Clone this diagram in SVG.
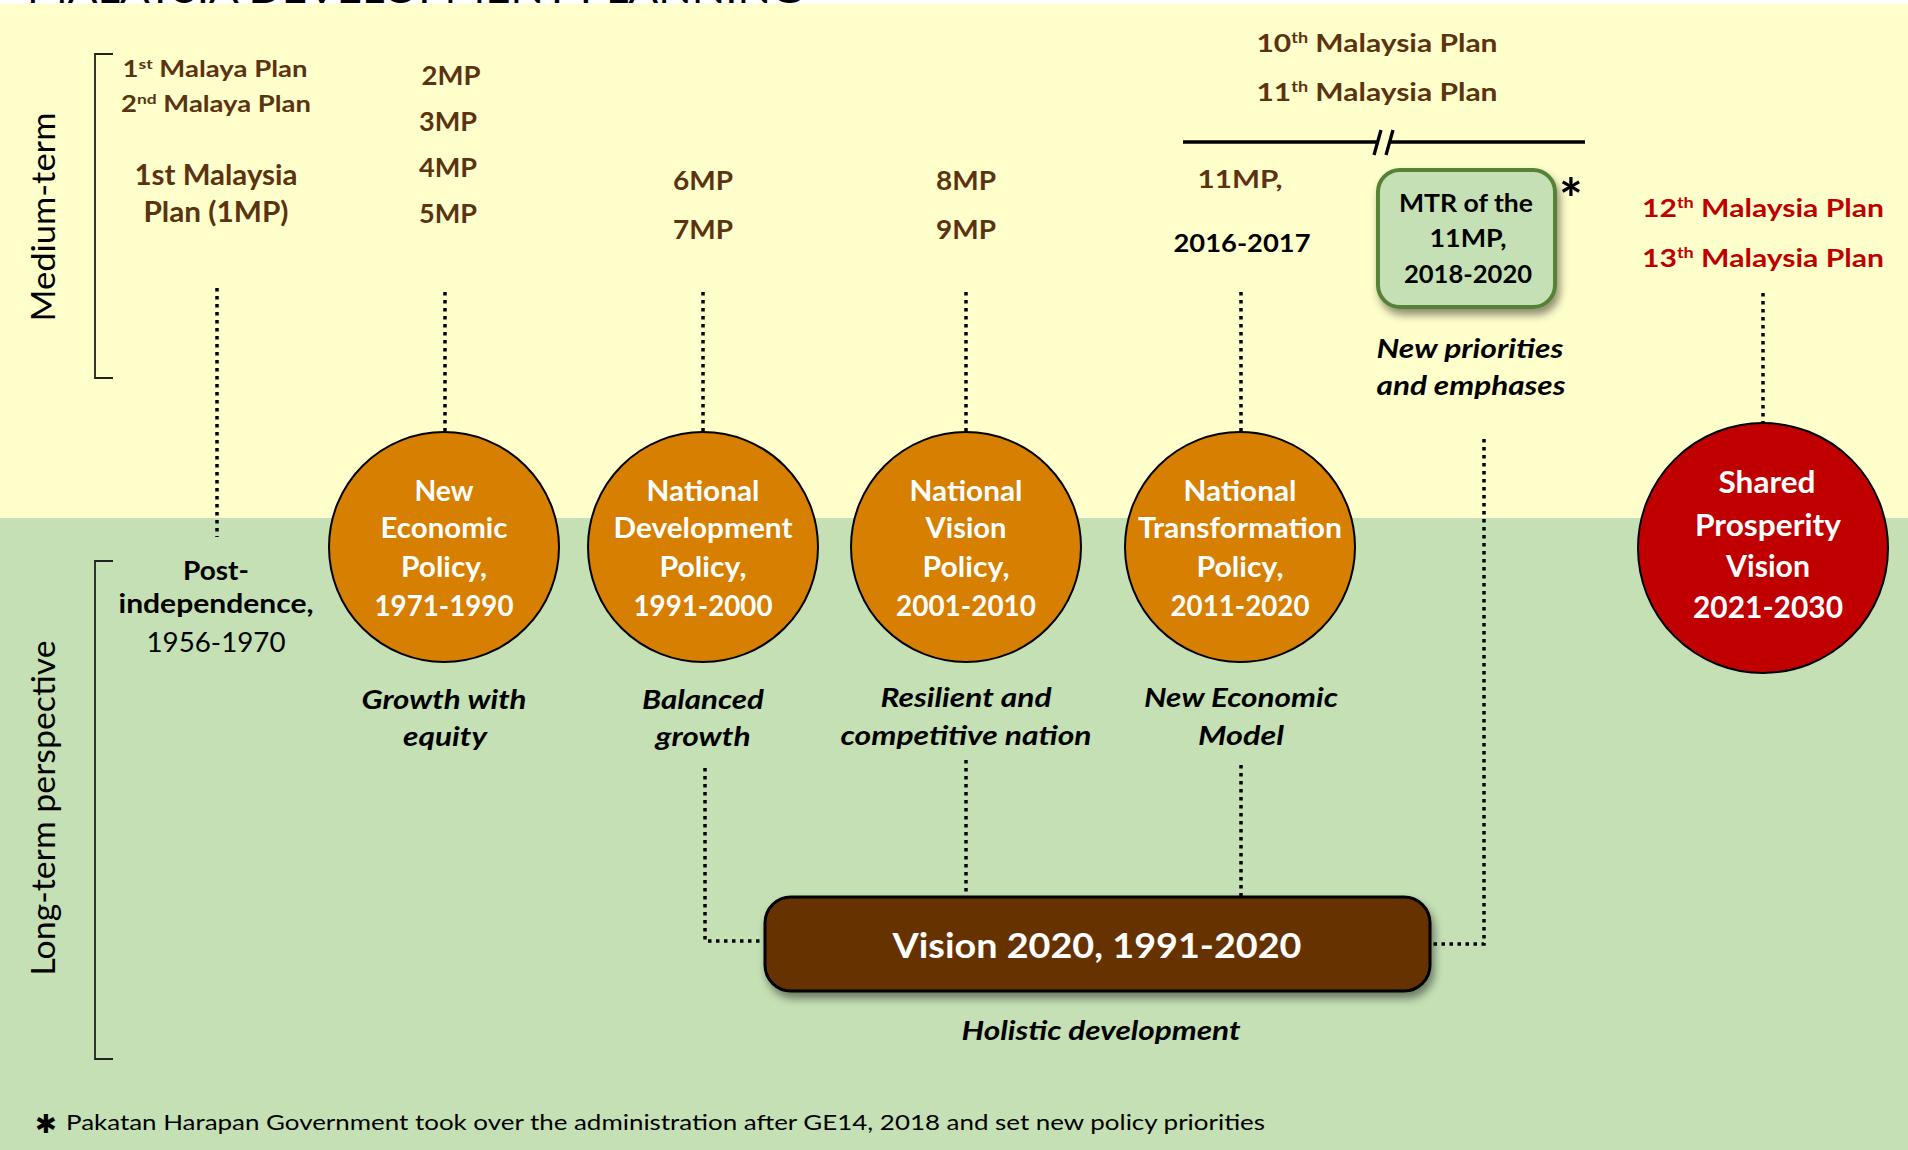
<svg xmlns="http://www.w3.org/2000/svg" width="1908" height="1150" viewBox="0 0 1908 1150">
<defs>
<style>
text{font-family:Lato,"Liberation Sans",sans-serif}
.c{text-anchor:middle}
.b{font-weight:700;fill:#000}
.r{font-weight:400;fill:#000}
.bi{font-weight:700;font-style:italic;fill:#000}
.br{fill:#5C3311;font-weight:700}
.w{fill:#fff;font-weight:700}
.red{fill:#C00000;font-weight:700}
.dot{fill:none;stroke:#000;stroke-width:3.5;stroke-dasharray:3.5 4.5}
.brk{fill:none;stroke:#222;stroke-width:1.8}
.pol{fill:#D67F00;stroke:#000;stroke-width:2}
</style>
<filter id="sh" x="-10%" y="-20%" width="130%" height="160%">
<feDropShadow dx="3" dy="6" stdDeviation="4" flood-color="#000" flood-opacity="0.45"/>
</filter>
</defs>

<rect x="0" y="0" width="1908" height="1150" fill="#fff"/>
<rect x="0" y="4" width="1908" height="514" fill="#FFFFCC"/>
<rect x="0" y="518" width="1908" height="632" fill="#C5E0B4"/>

<text x="27" y="3" class="r" font-size="40" textLength="776" lengthAdjust="spacingAndGlyphs">MALAYSIA DEVELOPMENT PLANNING</text>

<g id="axis-medium">
<path class="brk" d="M113,54 H95 V378 H113"/>
<text transform="translate(55,217) rotate(-90)" class="r c" font-size="33" textLength="209" lengthAdjust="spacingAndGlyphs">Medium-term</text>
</g>
<g id="axis-long">
<path class="brk" d="M113,561 H95 V1059 H113"/>
<text transform="translate(55,808) rotate(-90)" class="r c" font-size="33" textLength="335" lengthAdjust="spacingAndGlyphs">Long-term perspective</text>
</g>

<g id="connectors">
<path class="dot" d="M217,288 V537"/>
<path class="dot" d="M445,292 V432"/>
<path class="dot" d="M703,292 V432"/>
<path class="dot" d="M966,292 V432"/>
<path class="dot" d="M1241,292 V432"/>
<path class="dot" d="M1763,293 V423"/>
<path class="dot" d="M1484,439 V944 H1432"/>
<path class="dot" d="M705,768 V941 H765"/>
<path class="dot" d="M966,760 V896"/>
<path class="dot" d="M1241,765 V896"/>
<path fill="none" stroke="#000" stroke-width="3.3" d="M1183,142 H1378 M1389,142 H1585 M1381,130 L1374,155 M1393,130 L1386,155"/>
</g>

<g id="plans-early">
<text x="215" y="77" class="br c" font-size="22" textLength="185" lengthAdjust="spacingAndGlyphs">1<tspan dy="-8" font-size="14">st</tspan><tspan dy="8"> Malaya Plan</tspan></text>
<text x="216" y="112" class="br c" font-size="22" textLength="190" lengthAdjust="spacingAndGlyphs">2<tspan dy="-8" font-size="14">nd</tspan><tspan dy="8"> Malaya Plan</tspan></text>
<text x="216" y="185" class="br c" font-size="28" textLength="163" lengthAdjust="spacingAndGlyphs">1st Malaysia</text>
<text x="216" y="222" class="br c" font-size="28" textLength="145" lengthAdjust="spacingAndGlyphs">Plan (1MP)</text>
</g>

<g id="plans-2-5">
<text x="451" y="85" class="br c" font-size="26" textLength="59" lengthAdjust="spacingAndGlyphs">2MP</text>
<text x="448" y="131" class="br c" font-size="26" textLength="58" lengthAdjust="spacingAndGlyphs">3MP</text>
<text x="448" y="177" class="br c" font-size="26" textLength="58" lengthAdjust="spacingAndGlyphs">4MP</text>
<text x="448" y="223" class="br c" font-size="26" textLength="58" lengthAdjust="spacingAndGlyphs">5MP</text>
</g>

<g id="plans-6-7">
<text x="703" y="190" class="br c" font-size="26" textLength="60" lengthAdjust="spacingAndGlyphs">6MP</text>
<text x="703" y="239" class="br c" font-size="26" textLength="60" lengthAdjust="spacingAndGlyphs">7MP</text>
</g>

<g id="plans-8-9">
<text x="966" y="190" class="br c" font-size="26" textLength="60" lengthAdjust="spacingAndGlyphs">8MP</text>
<text x="966" y="239" class="br c" font-size="26" textLength="60" lengthAdjust="spacingAndGlyphs">9MP</text>
</g>

<g id="plans-10-11">
<text x="1377" y="52" class="br c" font-size="25" textLength="241" lengthAdjust="spacingAndGlyphs">10<tspan dy="-9" font-size="15">th</tspan><tspan dy="9"> Malaysia Plan</tspan></text>
<text x="1377" y="101" class="br c" font-size="25" textLength="241" lengthAdjust="spacingAndGlyphs">11<tspan dy="-9" font-size="15">th</tspan><tspan dy="9"> Malaysia Plan</tspan></text>
<text x="1240" y="188" class="br c" font-size="25" textLength="85" lengthAdjust="spacingAndGlyphs">11MP,</text>
<text x="1242" y="252" class="b c" font-size="25" textLength="137" lengthAdjust="spacingAndGlyphs">2016-2017</text>
</g>

<g id="mtr">
<rect x="1378" y="170" width="177" height="137" rx="22" fill="#C5E0B4" stroke="#548235" stroke-width="4" filter="url(#sh)"/>
<text x="1466" y="212" class="b c" font-size="25" textLength="134" lengthAdjust="spacingAndGlyphs">MTR of the</text>
<text x="1468" y="247" class="b c" font-size="25" textLength="77" lengthAdjust="spacingAndGlyphs">11MP,</text>
<text x="1468" y="283" class="b c" font-size="25" textLength="128" lengthAdjust="spacingAndGlyphs">2018-2020</text>
<text x="1571" y="219" class="b c" font-size="56">*</text>
<text x="1470" y="358" class="bi c" font-size="26" textLength="187" lengthAdjust="spacingAndGlyphs">New priorities</text>
<text x="1471" y="395" class="bi c" font-size="26" textLength="189" lengthAdjust="spacingAndGlyphs">and emphases</text>
</g>

<g id="plans-12-13">
<text x="1763" y="217" class="red c" font-size="25" textLength="242" lengthAdjust="spacingAndGlyphs">12<tspan dy="-9" font-size="15">th</tspan><tspan dy="9"> Malaysia Plan</tspan></text>
<text x="1763" y="267" class="red c" font-size="25" textLength="242" lengthAdjust="spacingAndGlyphs">13<tspan dy="-9" font-size="15">th</tspan><tspan dy="9"> Malaysia Plan</tspan></text>
</g>

<g id="post-independence">
<text x="216" y="580" class="b c" font-size="27" textLength="66" lengthAdjust="spacingAndGlyphs">Post-</text>
<text x="216" y="613" class="b c" font-size="27" textLength="195" lengthAdjust="spacingAndGlyphs">independence,</text>
<text x="216" y="652" class="r c" font-size="27" textLength="139" lengthAdjust="spacingAndGlyphs">1956-1970</text>
</g>

<g id="nep">
<circle class="pol" cx="444" cy="547" r="115"/>
<text x="444" y="501" class="w c" font-size="28" textLength="59" lengthAdjust="spacingAndGlyphs">New</text>
<text x="444" y="538" class="w c" font-size="28" textLength="127" lengthAdjust="spacingAndGlyphs">Economic</text>
<text x="444" y="577" class="w c" font-size="28" textLength="86" lengthAdjust="spacingAndGlyphs">Policy,</text>
<text x="444" y="616" class="w c" font-size="28" textLength="139" lengthAdjust="spacingAndGlyphs">1971-1990</text>
<text x="444" y="709" class="bi c" font-size="27" textLength="165" lengthAdjust="spacingAndGlyphs">Growth with</text>
<text x="445" y="746" class="bi c" font-size="27" textLength="84" lengthAdjust="spacingAndGlyphs">equity</text>
</g>

<g id="ndp">
<circle class="pol" cx="703" cy="547" r="115"/>
<text x="703" y="501" class="w c" font-size="28" textLength="113" lengthAdjust="spacingAndGlyphs">National</text>
<text x="703" y="538" class="w c" font-size="28" textLength="179" lengthAdjust="spacingAndGlyphs">Development</text>
<text x="703" y="577" class="w c" font-size="28" textLength="87" lengthAdjust="spacingAndGlyphs">Policy,</text>
<text x="703" y="616" class="w c" font-size="28" textLength="139" lengthAdjust="spacingAndGlyphs">1991-2000</text>
<text x="703" y="709" class="bi c" font-size="27" textLength="122" lengthAdjust="spacingAndGlyphs">Balanced</text>
<text x="703" y="746" class="bi c" font-size="27" textLength="95" lengthAdjust="spacingAndGlyphs">growth</text>
</g>

<g id="nvp">
<circle class="pol" cx="966" cy="547" r="115"/>
<text x="966" y="501" class="w c" font-size="28" textLength="113" lengthAdjust="spacingAndGlyphs">National</text>
<text x="966" y="538" class="w c" font-size="28" textLength="81" lengthAdjust="spacingAndGlyphs">Vision</text>
<text x="966" y="577" class="w c" font-size="28" textLength="87" lengthAdjust="spacingAndGlyphs">Policy,</text>
<text x="966" y="616" class="w c" font-size="28" textLength="140" lengthAdjust="spacingAndGlyphs">2001-2010</text>
<text x="966" y="707" class="bi c" font-size="27" textLength="171" lengthAdjust="spacingAndGlyphs">Resilient and</text>
<text x="966" y="745" class="bi c" font-size="27" textLength="251" lengthAdjust="spacingAndGlyphs">competitive nation</text>
</g>

<g id="ntp">
<circle class="pol" cx="1240" cy="547" r="115"/>
<text x="1240" y="501" class="w c" font-size="28" textLength="113" lengthAdjust="spacingAndGlyphs">National</text>
<text x="1240" y="538" class="w c" font-size="28" textLength="204" lengthAdjust="spacingAndGlyphs">Transformation</text>
<text x="1240" y="577" class="w c" font-size="28" textLength="87" lengthAdjust="spacingAndGlyphs">Policy,</text>
<text x="1240" y="616" class="w c" font-size="28" textLength="139" lengthAdjust="spacingAndGlyphs">2011-2020</text>
<text x="1241" y="707" class="bi c" font-size="27" textLength="194" lengthAdjust="spacingAndGlyphs">New Economic</text>
<text x="1241" y="745" class="bi c" font-size="27" textLength="86" lengthAdjust="spacingAndGlyphs">Model</text>
</g>

<g id="spv">
<circle cx="1763" cy="548" r="125" fill="#C00000" stroke="#000" stroke-width="2"/>
<text x="1767" y="493" class="w c" font-size="31" textLength="97" lengthAdjust="spacingAndGlyphs">Shared</text>
<text x="1768" y="536" class="w c" font-size="31" textLength="146" lengthAdjust="spacingAndGlyphs">Prosperity</text>
<text x="1768" y="577" class="w c" font-size="31" textLength="84" lengthAdjust="spacingAndGlyphs">Vision</text>
<text x="1768" y="618" class="w c" font-size="31" textLength="150" lengthAdjust="spacingAndGlyphs">2021-2030</text>
</g>

<g id="vision2020">
<rect x="765" y="897" width="665" height="94" rx="26" fill="#663300" stroke="#000" stroke-width="3" filter="url(#sh)"/>
<text x="1097" y="958" class="w c" font-size="35" textLength="409" lengthAdjust="spacingAndGlyphs">Vision 2020, 1991-2020</text>
<text x="1101" y="1040" class="bi c" font-size="26" textLength="279" lengthAdjust="spacingAndGlyphs">Holistic development</text>
</g>

<g id="footnote">
<text x="46" y="1133" class="b c" font-size="26" style="font-family:'DejaVu Sans',sans-serif">✱</text>
<text x="66" y="1130" class="r" font-size="21" textLength="1199" lengthAdjust="spacingAndGlyphs">Pakatan Harapan Government took over the administration after GE14, 2018 and set new policy priorities</text>
</g>
</svg>
